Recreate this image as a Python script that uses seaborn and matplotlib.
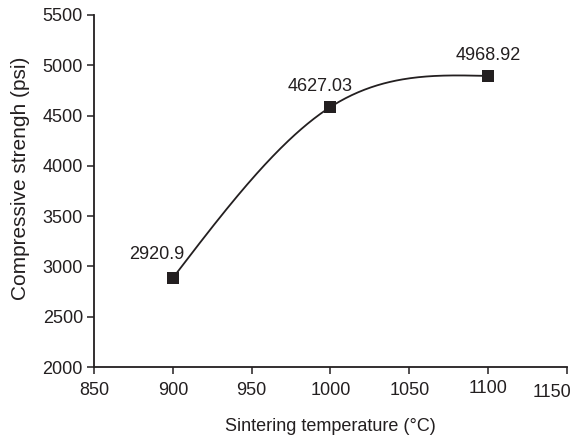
import numpy as np
import pandas as pd
import matplotlib
matplotlib.use("Agg")
import matplotlib.pyplot as plt
import matplotlib.transforms as mtransforms
import seaborn as sns

# values
temperature = [900, 1000, 1100]
strength = [2885, 4585, 4893]          # where the square markers sit
point_labels = ["2920.9", "4627.03", "4968.92"]
x_ticks = [850, 900, 950, 1000, 1050, 1100, 1150]
y_ticks = [2000, 2500, 3000, 3500, 4000, 4500, 5000, 5500]

df = pd.DataFrame({"temperature": temperature, "strength": strength})


def natural_spline(x, y, num=200):
    # smoothed connecting line (natural cubic spline through the points)
    x = np.asarray(x, float)
    y = np.asarray(y, float)
    n = len(x)
    h = np.diff(x)
    A = np.zeros((n, n))
    r = np.zeros(n)
    A[0, 0] = A[-1, -1] = 1
    for i in range(1, n - 1):
        A[i, i - 1] = h[i - 1]
        A[i, i] = 2 * (h[i - 1] + h[i])
        A[i, i + 1] = h[i]
        r[i] = 6 * ((y[i + 1] - y[i]) / h[i] - (y[i] - y[i - 1]) / h[i - 1])
    M = np.linalg.solve(A, r)
    xs = np.linspace(x[0], x[-1], num)
    k = np.clip(np.searchsorted(x, xs) - 1, 0, n - 2)
    a, b = xs - x[k], x[k + 1] - xs
    hk = h[k]
    ys = (M[k] * b**3 + M[k + 1] * a**3) / (6 * hk) \
        + (y[k] / hk - M[k] * hk / 6) * b + (y[k + 1] / hk - M[k + 1] * hk / 6) * a
    return pd.DataFrame({"temperature": xs, "strength": ys})


curve = natural_spline(temperature, strength)

sns.set_style("ticks")
plt.rcParams["font.family"] = ["Liberation Sans", "DejaVu Sans"]

ink = "#231f20"
fig = plt.figure(figsize=(5.75, 4.38), dpi=100)
ax = fig.add_axes([0.1635, 0.162, 0.8225, 0.804])

sns.lineplot(data=curve, x="temperature", y="strength", color=ink, lw=1.3, ax=ax)
sns.scatterplot(data=df, x="temperature", y="strength", marker="s", s=78,
                color=ink, edgecolor=ink, linewidth=0, zorder=3, ax=ax)

offsets = [(-16, 23), (-10, 20), (0, 20)]
for xv, yv, lab, off in zip(temperature, strength, point_labels, offsets):
    ax.annotate(lab, (xv, yv), xytext=off, textcoords="offset pixels",
                ha="center", va="center", fontsize=13, color=ink)

ax.set_xlim(850, 1150)
ax.set_ylim(2000, 5500)
ax.set_xticks(x_ticks)
ax.set_yticks(y_ticks)
ax.tick_params(axis="both", labelsize=13, length=5, width=1.1, color=ink,
               labelcolor=ink)
ax.tick_params(axis="x", pad=6)
ax.tick_params(axis="y", pad=3)
sns.despine(ax=ax)
for side in ("left", "bottom"):
    ax.spines[side].set_color(ink)
    ax.spines[side].set_linewidth(1.3)

# the last two x tick labels sit slightly off in the reference
shifts = {1100: (0, 2), 1150: (-15, -2)}
for val, lab in zip(x_ticks, ax.get_xticklabels()):
    if val in shifts:
        dx, dy = shifts[val]
        lab.set_transform(lab.get_transform() +
                          mtransforms.ScaledTranslation(dx / 100, dy / 100, fig.dpi_scale_trans))

ax.set_xlabel("Sintering temperature (°C)", fontsize=13, color=ink, labelpad=12)
ax.set_ylabel("Compressive strengh (psi)", fontsize=15, color=ink, labelpad=6)
ax.yaxis.set_label_coords(-0.135, 0.535)

fig.savefig("out.png", dpi=100)
